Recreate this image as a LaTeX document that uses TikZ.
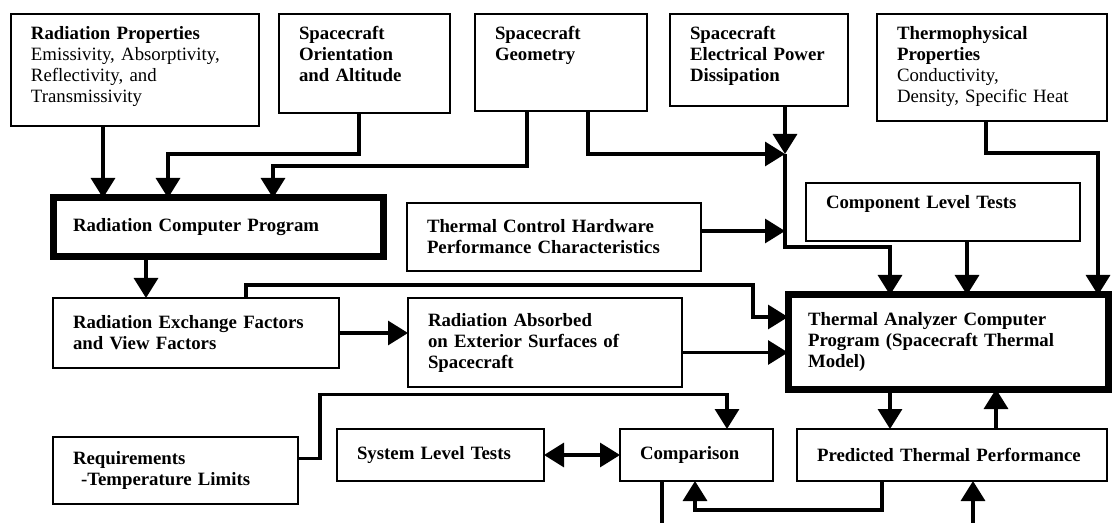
\documentclass[tikz,border=0pt]{standalone}
\usepackage{fontspec}
\setmainfont{Liberation Serif}
\usepackage{tikz}
\usetikzlibrary{arrows.meta, positioning}

\begin{document}
\begin{tikzpicture}[
  >={Triangle[width=12pt,length=10pt]},
  box/.style={draw, line width=1.3pt, outer sep=0pt, inner xsep=10pt, inner ysep=7pt,
              align=left, font=\fontsize{9.4}{10.5}\selectfont\bfseries},
  topbox/.style={box, text height=6pt, text depth=#1},
  progbox/.style={box, line width=3.5pt},
  arr/.style={->, line width=1.6pt},
  dblarr/.style={<->, line width=1.6pt},
  wire/.style={line width=1.6pt}]
\useasboundingbox (0,0) rectangle (556pt,-261.5pt);
\node[topbox=36pt, text width=104pt, anchor=north west] (radprop) at (5.5pt,-7pt)
  {Radiation Properties\\\mdseries Emissivity, Absorptivity,\\Reflectivity, and\\Transmissivity};
\node[topbox=29.5pt, text width=65.5pt, right=10pt of radprop.north east, anchor=north west] (orient)
  {Spacecraft\\Orientation\\and Altitude};
\node[topbox=28.5pt, text width=66pt, right=12.5pt of orient.north east, anchor=north west] (geom)
  {Spacecraft\\Geometry};
\node[topbox=26pt, text width=69pt, right=11.5pt of geom.north east, anchor=north west] (power)
  {Spacecraft\\Electrical~Power\\Dissipation};
\node[topbox=33.5pt, text width=95pt, right=14.5pt of power.north east, anchor=north west] (thermo)
  {Thermophysical\\Properties\\\mdseries Conductivity,\\Density, Specific Heat};
\node[progbox, text width=145pt, minimum height=29.5pt, below right=36pt and 21pt of radprop.south west] (rcp)
  {Radiation Computer Program};
\node[box, text width=127pt, minimum height=34pt, below right=2.5pt and 12pt of rcp.north east] (thermhw)
  {Thermal Control Hardware\\Performance Characteristics};
\node[topbox=9pt, text width=117pt, above right=10pt and 52.5pt of thermhw.north east, anchor=north west] (compon)
  {Component Level Tests};
\node[box, text width=123pt, minimum height=35pt, below=20.5pt of rcp.south west, anchor=north west] (radex)
  {Radiation Exchange Factors\\and View Factors};
\node[box, text width=117pt, minimum height=44.5pt, right=34.5pt of radex.north east, anchor=north west] (radabs)
  {Radiation Absorbed\\on Exterior Surfaces of\\Spacecraft};
\node[progbox, text width=140pt, minimum height=47pt, above right=1.5pt and 53pt of radabs.north east, anchor=north west] (ta)
  {Thermal Analyzer Computer\\Program (Spacecraft Thermal\\Model)};
\node[box, text width=102.5pt, minimum height=33.5pt, below=34.5pt of radex.south west, anchor=north west] (req)
  {Requirements\\\hspace*{4pt}-Temperature Limits};
\node[box, text width=83.5pt, minimum height=26pt, above right=4pt and 19.5pt of req.north east, anchor=north west] (syslev)
  {System Level Tests};
\node[box, text width=56.5pt, minimum height=26pt, right=38pt of syslev.north east, anchor=north west] (comp)
  {Comparison};
\node[box, text width=135pt, minimum height=26pt, right=12pt of comp.north east, anchor=north west] (pred)
  {Predicted Thermal Performance};
\path ([xshift=57.5pt]power.south west) ++(0,-24pt) coordinate (hub);
\coordinate (tain) at ([yshift=-11pt]ta.north west);
\draw[arr] ([xshift=46pt]radprop.south west) coordinate (a) -- (a |- rcp.north);
\draw[arr] ([xshift=40pt]orient.south west) -- ++(0,-20.5pt) -| ([xshift=57.5pt]rcp.north west);
\draw[arr] ([xshift=26pt]geom.south west) -- ++(0,-27.5pt) -| ([xshift=110pt]rcp.north west);
\draw[arr] ([xshift=56.5pt]geom.south west) |- (hub);
\draw[arr] (power.south west -| hub) -- (hub);
\draw[arr] ([yshift=3pt]thermhw.east) -- ([yshift=3pt]thermhw.east -| hub);
\draw[arr] (hub) -- ++(0,-46.5pt) -| ([xshift=51pt]ta.north west);
\draw[arr] ([xshift=80.5pt]compon.south west) coordinate (b) -- (b |- ta.north);
\draw[arr] ([xshift=54.5pt]thermo.south west) -- ++(0,-16pt) -| ([xshift=155pt]ta.north west);
\draw[arr] ([xshift=46.5pt]rcp.south west) coordinate (c) -- (c |- radex.north);
\draw[arr] (radex.east) -- (radex.east -| radabs.west);
\draw[arr] ([xshift=96.5pt]radex.north west) -- ++(0,6.5pt) -| ([xshift=-17.5pt]tain) -- (tain);
\draw[arr] ([yshift=-5pt]radabs.east) -- ([yshift=-5pt]radabs.east -| ta.west);
\draw[arr] ([xshift=51pt]ta.south west) coordinate (d) -- (d |- pred.north);
\draw[arr] ([xshift=104pt]ta.south west |- pred.north) -- ([xshift=104pt]ta.south west);
\draw[arr] ([yshift=6pt]req.east) -- ++(11pt,0) -- ++(0,32pt) -| ([xshift=53.5pt]comp.north west);
\draw[dblarr] (syslev.east) -- (comp.west);
\draw[arr] ([xshift=42.5pt]pred.south west) -- ++(0,-14.5pt) -| ([xshift=37.5pt]comp.south west);
\draw[wire] ([xshift=21pt]comp.south west) -- ++(0,-24pt);
\draw[arr] ([xshift=88pt,yshift=-24pt]pred.south west) -- ([xshift=88pt]pred.south west);
\end{tikzpicture}
\end{document}
